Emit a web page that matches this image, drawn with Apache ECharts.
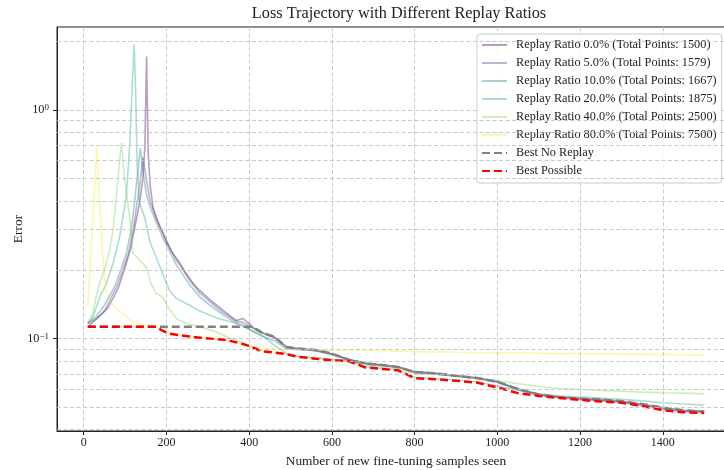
<!DOCTYPE html>
<html>
<head>
<meta charset="utf-8">
<script src="https://cdn.jsdelivr.net/npm/echarts@6/dist/echarts.min.js"></script>
<style>html,body{margin:0;padding:0;background:#fff}#c{width:724px;height:470px}</style>
</head>
<body>
<div id="c"></div>
<script>
// ---- data (x = samples seen, y = error) ----
const seriesNames = [
  'Replay Ratio 0.0% (Total Points: 1500)',
  'Replay Ratio 5.0% (Total Points: 1579)',
  'Replay Ratio 10.0% (Total Points: 1667)',
  'Replay Ratio 20.0% (Total Points: 1875)',
  'Replay Ratio 40.0% (Total Points: 2500)',
  'Replay Ratio 80.0% (Total Points: 7500)'
];
const replay0 = [[10,0.1126],[31,0.122],[47,0.13],[59,0.137],[71,0.15],[85,0.169],[100,0.205],[113,0.245],[127,0.33],[135,0.39],[143,0.5],[148,0.69],[152,1.71],[156,0.646],[161,0.462],[168,0.371],[184,0.31],[200,0.265],[216,0.235],[232,0.215],[248,0.192],[264,0.175],[281,0.162],[305,0.148],[337,0.133],[369,0.12],[385,0.1225],[401,0.116],[412,0.111],
  [430,0.1065],[460,0.102],[490,0.092],[520,0.0905],[560,0.0893],[600,0.086],[640,0.081],[680,0.078],[720,0.0767],[760,0.0752],[800,0.0715],[850,0.0705],[900,0.0688],[950,0.0673],[1000,0.0648],[1050,0.0602],[1100,0.057],[1150,0.0556],[1200,0.0548],[1250,0.0542],[1300,0.0533],[1350,0.0518],[1400,0.05],[1450,0.0487],[1500,0.0481]];
const replay5 = [[10,0.1165],[30,0.122],[50,0.132],[80,0.169],[95,0.2],[108,0.236],[120,0.3],[128,0.38],[135,0.462],[140,0.55],[143,0.62],[152,0.494],[160,0.404],[176,0.33],[192,0.29],[208,0.25],[224,0.22],[240,0.2],[256,0.18],[281,0.158],[305,0.145],[337,0.13],[369,0.119],[385,0.118],[406,0.112],
  [430,0.106],[460,0.101],[490,0.092],[520,0.09],[560,0.0888],[600,0.0855],[640,0.0812],[680,0.0782],[720,0.0768],[760,0.0754],[800,0.0718],[850,0.0708],[900,0.069],[950,0.0676],[1000,0.065],[1050,0.0598],[1100,0.0566],[1150,0.0552],[1200,0.0543],[1250,0.0535],[1300,0.0527],[1350,0.051],[1400,0.049],[1450,0.048],[1500,0.0476]];
const replay10 = [[10,0.1165],[30,0.125],[50,0.14],[75,0.169],[90,0.2],[103,0.236],[115,0.3],[122,0.38],[127,0.462],[133,0.58],[137,0.68],[143,0.546],[151,0.432],[160,0.378],[176,0.32],[192,0.275],[208,0.24],[224,0.21],[240,0.19],[256,0.172],[281,0.152],[305,0.14],[337,0.127],[369,0.117],[385,0.115],[406,0.108],
  [430,0.103],[460,0.098],[490,0.0905],[520,0.0895],[560,0.0885],[600,0.0852],[640,0.081],[680,0.0778],[720,0.0764],[760,0.075],[800,0.0712],[850,0.0702],[900,0.0685],[950,0.067],[1000,0.0645],[1050,0.0605],[1100,0.0572],[1150,0.0556],[1200,0.0546],[1250,0.0538],[1300,0.053],[1350,0.0514],[1400,0.0496],[1450,0.0485],[1500,0.0481]];
const replay20 = [[10,0.1165],[22,0.124],[39,0.152],[55,0.174],[71,0.213],[87,0.279],[103,0.417],[111,0.69],[118,1.35],[122,1.93],[126,1.14],[129,0.584],[135,0.39],[147,0.341],[160,0.265],[176,0.225],[192,0.19],[208,0.162],[224,0.15],[240,0.145],[256,0.14],[281,0.132],[321,0.123],[360,0.118],[401,0.11],
  [430,0.1035],[460,0.094],[490,0.0862],[520,0.0838],[560,0.0825],[600,0.0812],[640,0.0805],[680,0.0755],[720,0.0742],[760,0.073],[800,0.0678],[850,0.0668],[900,0.066],[950,0.0648],[1000,0.0622],[1050,0.0595],[1100,0.0575],[1150,0.0562],[1200,0.0556],[1250,0.055],[1300,0.0543],[1350,0.0535],[1400,0.0525],[1450,0.0518],[1500,0.0513]];
const replay40 = [[10,0.118],[22,0.128],[30,0.152],[38,0.174],[50,0.199],[63,0.244],[71,0.298],[79,0.417],[85,0.546],[91,0.715],[99,0.494],[111,0.341],[119,0.236],[135,0.221],[151,0.206],[163,0.174],[175,0.158],[191,0.152],[205,0.136],[225,0.122],[250,0.1165],[281,0.1126],[321,0.107],[355,0.1005],[380,0.097],[406,0.092],
  [430,0.0885],[460,0.0872],[490,0.0858],[520,0.0835],[560,0.082],[600,0.0808],[640,0.0802],[680,0.0765],[720,0.0752],[760,0.074],[800,0.0705],[850,0.0698],[900,0.0685],[950,0.0672],[1000,0.0655],[1050,0.0636],[1100,0.0618],[1150,0.0606],[1200,0.06],[1250,0.0594],[1300,0.059],[1350,0.0584],[1400,0.058],[1450,0.0578],[1500,0.0574]];
const replay80 = [[10,0.138],[32,0.69],[40,0.36],[48,0.2],[55,0.16],[65,0.145],[80,0.135],[100,0.126],[120,0.118],[150,0.1146],[170,0.1126],[188,0.109],[204,0.1055],[232,0.1036],[281,0.101],[345,0.0987],[375,0.096],[401,0.0935],
  [430,0.0915],[460,0.0908],[490,0.0902],[520,0.0897],[560,0.0893],[600,0.0891],[640,0.089],[680,0.0888],[720,0.0885],[760,0.0882],[800,0.0878],[850,0.0875],[900,0.0872],[950,0.087],[1000,0.0868],[1050,0.0866],[1100,0.0864],[1150,0.0862],[1200,0.086],[1250,0.0858],[1300,0.0856],[1350,0.0854],[1400,0.0852],[1450,0.085],[1500,0.0848]];
const bestNoReplay = [[10,0.1126],[408,0.1126],[412,0.111],
  [430,0.1065],[460,0.102],[490,0.092],[520,0.0905],[560,0.0893],[600,0.086],[640,0.081],[680,0.078],[720,0.0767],[760,0.0752],[800,0.0715],[850,0.0705],[900,0.0688],[950,0.0673],[1000,0.0648],[1050,0.0602],[1100,0.057],[1150,0.0556],[1200,0.0548],[1250,0.0542],[1300,0.0533],[1350,0.0518],[1400,0.05],[1450,0.0487],[1500,0.0481]];
const bestPossible = [[10,0.1126],[176,0.1126],[188,0.109],[204,0.1055],[232,0.1036],[281,0.101],[345,0.0987],[375,0.0958],[401,0.0928],
  [430,0.0882],[460,0.087],[490,0.0856],[520,0.0832],[560,0.0818],[600,0.0805],[640,0.0798],[680,0.0749],[720,0.0738],[760,0.0727],[800,0.0672],[850,0.0665],[900,0.0655],[950,0.0643],[1000,0.0612],[1050,0.0578],[1100,0.0562],[1150,0.0551],[1200,0.054],[1250,0.0532],[1300,0.0525],[1350,0.0508],[1400,0.0487],[1450,0.0477],[1500,0.0473]];
const xTicks = [0, 200, 400, 600, 800, 1000, 1200, 1400];
const yMajorTicks = [0.1, 1];
const yMinorGrid = [0.04, 0.05, 0.06, 0.07, 0.08, 0.09, 0.2, 0.3, 0.4, 0.5, 0.6, 0.7, 0.8, 0.9, 2];

// ---- styling ----
const FONT = 'Liberation Serif';
const viridis = ['68,1,84', '65,68,135', '42,120,142', '34,168,132', '122,209,81', '253,231,37'];
const replayData = [replay0, replay5, replay10, replay20, replay40, replay80];
const gridLine = {color: '#c4c4c4', width: 0.9, type: [4, 2.5]};
const noSymbol = {color: 'transparent', borderColor: 'transparent', borderWidth: 0, opacity: 0};

const series = [{
  type: 'line', data: [], silent: true, z: 0,
  markLine: {
    silent: true, symbol: 'none', animation: false,
    label: {show: false},
    lineStyle: gridLine,
    data: yMinorGrid.map(v => ({yAxis: v}))
  }
}];
replayData.forEach((d, i) => {
  series.push({
    name: seriesNames[i], type: 'line', data: d, symbol: 'none', z: 2,
    lineStyle: {color: 'rgba(' + viridis[i] + ',0.38)', width: 1.6},
    itemStyle: {color: 'rgba(' + viridis[i] + ',0.38)'}
  });
});
series.push({
  name: 'Best No Replay', type: 'line', data: bestNoReplay, symbol: 'none', z: 3,
  lineStyle: {color: '#808080', width: 2.5, type: [8, 4]}, itemStyle: {color: '#808080'}
});
series.push({
  name: 'Best Possible', type: 'line', data: bestPossible, symbol: 'none', z: 4,
  lineStyle: {color: '#ff0000', width: 2.5, type: [8, 4]}, itemStyle: {color: '#ff0000'}
});

const chart = echarts.init(document.getElementById('c'), null, {renderer: 'canvas'});
chart.setOption({
  animation: false,
  backgroundColor: '#fff',
  title: {
    text: 'Loss Trajectory with Different Replay Ratios',
    left: 399, top: 5.5, padding: 0, textAlign: 'center',
    textStyle: {fontFamily: FONT, fontSize: 16.3, fontWeight: 'normal', color: '#222'}
  },
  grid: {left: 57, right: -11, top: 27, bottom: 39, outerBoundsMode: 'none', containLabel: false,
    show: true, borderColor: '#222', borderWidth: 1, backgroundColor: 'transparent'},
  legend: {
    orient: 'vertical', left: 477, top: 34,
    padding: [5, 5, 6, 4], itemGap: 6, itemWidth: 25, itemHeight: 12,
    backgroundColor: 'rgba(255,255,255,0.85)', borderColor: '#cccccc', borderWidth: 1, borderRadius: 3,
    itemStyle: noSymbol,
    textStyle: {fontFamily: FONT, fontSize: 12.3, color: '#222', padding: [0, 0, 0, 4]},
    data: seriesNames.concat(['Best No Replay', 'Best Possible'])
  },
  xAxis: {
    type: 'value', min: -64.5, max: 1574.5, splitNumber: 8,
    name: 'Number of new fine-tuning samples seen', nameLocation: 'middle', nameGap: 24,
    nameMoveOverlap: false,
    nameTextStyle: {fontFamily: FONT, fontSize: 13.4, color: '#222'},
    axisLine: {show: true, onZero: false, lineStyle: {color: '#222'}},
    axisTick: {show: true, length: 4, lineStyle: {color: '#222'}, customValues: xTicks},
    axisLabel: {fontFamily: FONT, fontSize: 12, color: '#222', margin: 6, customValues: xTicks,
      formatter: v => String(v)},
    splitLine: {show: true, lineStyle: gridLine}
  },
  yAxis: {
    type: 'log', logBase: 10, min: 0.0395, max: 2.3,
    name: 'Error', nameLocation: 'middle', nameGap: 32, nameMoveOverlap: false,
    nameTextStyle: {fontFamily: FONT, fontSize: 13.4, color: '#222'},
    axisLine: {show: true, onZero: false, lineStyle: {color: '#222'}},
    axisTick: {show: true, length: 4, lineStyle: {color: '#222'}, customValues: yMajorTicks},
    axisLabel: {
      margin: 8, customValues: yMajorTicks,
      formatter: v => {
        const e = Math.log10(v), r = Math.round(e);
        if (Math.abs(e - r) > 1e-6) return '';
        return '{b|10}{s|' + (r < 0 ? '\u2212' + (-r) : r) + '}';
      },
      rich: {
        b: {fontFamily: FONT, fontSize: 12.3, lineHeight: 14, color: '#222'},
        s: {fontFamily: FONT, fontSize: 9, lineHeight: 6, verticalAlign: 'top', color: '#222'}
      }
    },
    splitLine: {show: true, lineStyle: gridLine}
  },
  series: series
});
</script>
</body>
</html>
